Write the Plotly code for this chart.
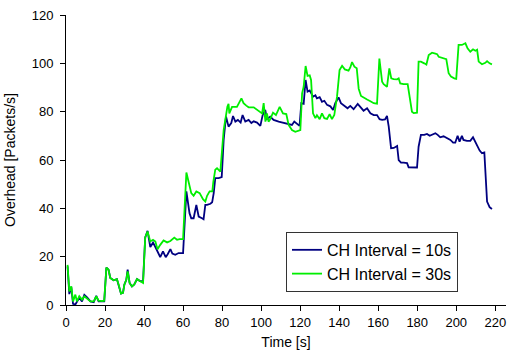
import plotly.graph_objects as go

# CH Interval = 10s (blue)
t_10 = [0.8, 1.7, 2.7, 3.6, 4.8, 5.6, 6.8, 8.2, 9.4, 10.8, 12.5, 14.2, 15.5, 16.7, 18.5, 19.6,
        20.7, 21.8, 22.7, 24.4, 26.1, 27.0, 28.2, 29.2, 29.9, 30.9, 31.6, 32.6, 33.8, 35.0, 36.4, 38.1, 39.5,
        40.6, 41.8, 43.2, 44.6, 45.8, 46.9, 48.3, 49.7, 51.1, 52.1, 53.5, 54.5, 56.0, 57.7, 60.0,
        61.7, 63.3, 64.2, 65.4, 66.8, 68.0, 69.7, 70.5, 71.4, 72.3, 74.0, 74.9, 75.7, 76.5, 78.2, 79.8,
        80.8, 82.0, 83.3, 84.7, 85.6, 86.8, 88.1, 89.5, 90.5, 91.9, 93.6, 95.0, 96.2, 97.9, 99.6,
        100.8, 102.1, 103.0, 104.7, 106.4, 109.0, 111.5, 114.1, 115.8, 117.0, 118.4, 119.7,
        120.6, 121.8, 122.8, 123.8, 124.9, 125.6, 126.6, 127.8, 128.6, 130.0, 131.2, 132.4, 133.8,
        135.5, 136.9, 138.0, 139.7, 140.9, 142.6, 144.3, 145.7, 147.4, 149.5, 150.8, 152.5, 154.3,
        156.0, 157.7, 159.4, 160.7, 162.0, 163.5, 164.5, 165.4, 166.6, 168.0, 169.7, 170.5, 171.7,
        173.0, 174.8, 175.6, 177.3, 179.9, 180.7, 181.9, 183.6, 185.0, 186.4, 187.6, 189.3, 190.5,
        191.8, 193.5, 195.3, 197.0, 198.4, 199.5, 200.7, 201.7, 202.9, 203.7, 205.5, 207.2, 208.6,
        209.8, 210.7, 212.0, 213.2, 214.4, 215.8, 217.1, 218.3]
v_10 = [16.0, 4.5, 7.5, 0.5, 0.2, 1.5, 3.0, 1.5, 4.2, 3.2, 1.5, 1.2, 3.8, 1.5, 1.5, 1.5,
        15.5, 14.6, 11.2, 10.2, 10.7, 8.4, 4.7, 5.0, 8.4, 10.4, 14.6, 9.1, 7.7, 8.5, 10.7, 9.8, 10.0,
        28.0, 30.7, 24.0, 25.8, 24.0, 22.2, 19.8, 22.2, 19.8, 21.0, 23.1, 21.3, 20.8, 21.5, 21.5,
        47.0, 38.0, 35.9, 35.9, 41.4, 36.6, 35.9, 35.5, 41.4, 41.4, 41.9, 42.5, 46.3, 52.5, 52.5, 52.9,
        68.3, 78.0, 73.8, 75.3, 78.2, 75.9, 76.6, 75.5, 78.6, 75.9, 76.6, 75.3, 76.0, 75.5, 74.1,
        78.6, 80.7, 77.0, 77.9, 76.6, 75.9, 75.5, 74.9, 74.5, 75.9, 74.8, 74.1,
        83.5, 83.2, 93.1, 88.3, 88.8, 87.6, 86.2, 86.8, 85.5, 86.0, 84.1, 84.5, 82.8,
        82.2, 80.7, 83.5, 85.9, 83.5, 82.4, 81.4, 82.4, 81.0, 83.2, 81.8, 80.4, 81.4,
        79.3, 78.6, 78.6, 76.9, 76.6, 76.8, 78.2, 73.8, 64.9, 65.0, 65.8, 60.0, 58.9,
        58.9, 58.7, 57.0, 56.9, 56.9, 65.5, 70.4, 70.4, 70.8, 70.0, 70.4, 71.1, 70.4,
        69.4, 69.8, 69.0, 68.3, 67.2, 67.2, 70.0, 67.6, 70.0, 68.3, 67.9, 67.9, 69.4,
        67.5, 66.2, 63.9, 62.8, 63.1, 42.8, 40.5, 39.7]

# CH Interval = 30s (green)
t_30 = [0.8, 1.7, 2.7, 3.6, 4.8, 5.6, 6.8, 8.2, 9.4, 10.8, 12.5, 14.2, 15.5, 16.7, 18.5, 19.6,
        20.7, 21.8, 22.7, 24.4, 26.1, 27.0, 28.2, 29.2, 29.9, 30.9, 31.6, 32.6, 33.8, 35.0, 36.4, 38.1, 39.5,
        40.6, 41.8, 43.2, 44.6, 45.8, 46.9, 48.3, 50.0, 51.8, 53.5, 55.5, 56.9, 58.2, 60.0,
        61.7, 63.2, 64.2, 65.4, 66.8, 68.5, 70.2, 71.4, 72.3, 73.6, 75.0, 75.5, 76.5, 77.4, 79.1,
        80.8, 81.7, 82.7, 83.3, 83.7, 85.1, 87.6, 89.9, 91.0, 92.4, 93.6, 96.2, 97.4, 98.6,
        100.5, 101.3, 102.2, 103.0, 103.8, 104.5, 106.1, 107.6, 109.5, 111.2, 112.9, 114.1, 115.8,
        117.5, 119.2, 120.1, 121.0, 121.8, 122.8, 123.8, 124.9, 125.6, 126.6, 127.8, 128.6, 130.0,
        131.2, 132.4, 133.8, 135.1, 136.3, 137.5, 138.9, 140.2, 141.5, 142.9, 144.8, 145.7, 146.6,
        147.8, 149.0, 150.0, 151.2, 152.5, 154.3, 156.0, 157.7, 159.4, 160.6, 162.0, 162.8, 164.5,
        165.7, 166.7, 167.9, 169.7, 170.5, 171.3, 173.0, 175.1, 176.5, 177.3, 178.2, 179.9, 180.7,
        181.9, 183.6, 184.7, 185.9, 187.6, 189.3, 190.2, 191.0, 193.5, 194.9, 196.1, 197.3, 199.0,
        200.0, 201.2, 202.9, 204.7, 205.8, 207.2, 208.6, 209.8, 210.7, 211.5, 213.2, 214.9, 215.8,
        217.1, 218.3]
v_30 = [16.6, 5.6, 7.7, 1.5, 4.3, 1.5, 3.6, 2.2, 3.6, 2.6, 1.5, 1.5, 3.6, 1.8, 1.6, 1.8,
        15.5, 14.6, 11.2, 10.2, 10.7, 8.4, 4.7, 5.0, 8.4, 10.4, 13.9, 9.1, 7.7, 8.5, 10.7, 9.8, 9.1,
        28.0, 30.4, 26.3, 27.0, 26.3, 23.1, 24.9, 26.7, 25.9, 26.5, 27.9, 27.0, 27.3, 27.3,
        54.8, 49.0, 46.3, 45.2, 47.0, 46.3, 43.8, 42.8, 45.2, 47.0, 47.0, 51.0, 56.0, 56.6, 55.2,
        72.4, 78.0, 82.0, 83.2, 79.3, 82.0, 82.0, 85.5, 83.5, 82.5, 81.8, 81.8, 81.0, 80.5,
        79.3, 83.5, 75.9, 79.3, 75.9, 76.6, 79.6, 78.6, 82.0, 79.3, 79.0, 74.5, 72.4,
        71.7, 72.1, 72.4, 87.6, 90.3, 98.9, 94.8, 95.0, 93.1, 79.3, 77.3, 78.5, 76.9,
        79.3, 77.3, 77.0, 79.0, 76.9, 78.6, 86.2, 97.2, 99.0, 97.5, 97.0, 98.3, 100.5,
        98.6, 98.0, 89.5, 86.5, 86.0, 85.0, 84.3, 83.5, 83.3, 102.0, 92.4, 91.4, 90.3,
        97.9, 93.8, 93.5, 93.4, 93.8, 91.7, 91.4, 91.4, 82.8, 80.0, 79.4, 79.6, 100.7,
        100.7, 100.0, 99.5, 103.4, 104.4, 104.0, 103.8, 102.7, 102.0, 101.7, 95.9, 94.5, 93.8,
        93.6, 107.6, 107.6, 108.3, 106.2, 104.8, 105.8, 105.2, 105.6, 100.7, 99.6, 100.2, 100.9,
        100.0, 99.6]

x_ticks = [0, 20, 40, 60, 80, 100, 120, 140, 160, 180, 200, 220]
y_ticks = [0, 20, 40, 60, 80, 100, 120]

fig = go.Figure()
fig.add_trace(go.Scatter(x=t_10, y=v_10, mode="lines", name="CH Interval = 10s",
                         line=dict(color="#000080", width=1.8)))
fig.add_trace(go.Scatter(x=t_30, y=v_30, mode="lines", name="CH Interval = 30s",
                         line=dict(color="#00EE00", width=1.8)))

fig.update_layout(
    width=507, height=360,
    margin=dict(l=66, r=1, t=15, b=55),
    paper_bgcolor="white", plot_bgcolor="white",
    font=dict(family="Arial", size=13, color="black"),
    showlegend=True,
    legend=dict(x=0.5, y=0.252, xanchor="left", yanchor="top",
                bgcolor="white", bordercolor="#333333", borderwidth=1,
                font=dict(family="Arial", size=16, color="black"),
                tracegroupgap=0, itemwidth=30),
    xaxis=dict(range=[0, 225.5], tickvals=x_ticks, showgrid=False, zeroline=False,
               showline=True, linecolor="black", linewidth=1,
               ticks="outside", ticklen=5, tickcolor="black",
               title=dict(text="Time [s]", font=dict(size=14), standoff=8)),
    yaxis=dict(range=[0, 120], tickvals=y_ticks, showgrid=False, zeroline=False,
               showline=True, linecolor="black", linewidth=1,
               ticks="outside", ticklen=5, tickcolor="black", ticklabelstandoff=4,
               title=dict(text="Overhead [Packets/s]", font=dict(size=14), standoff=12)),
)

fig.write_html("out.html")
